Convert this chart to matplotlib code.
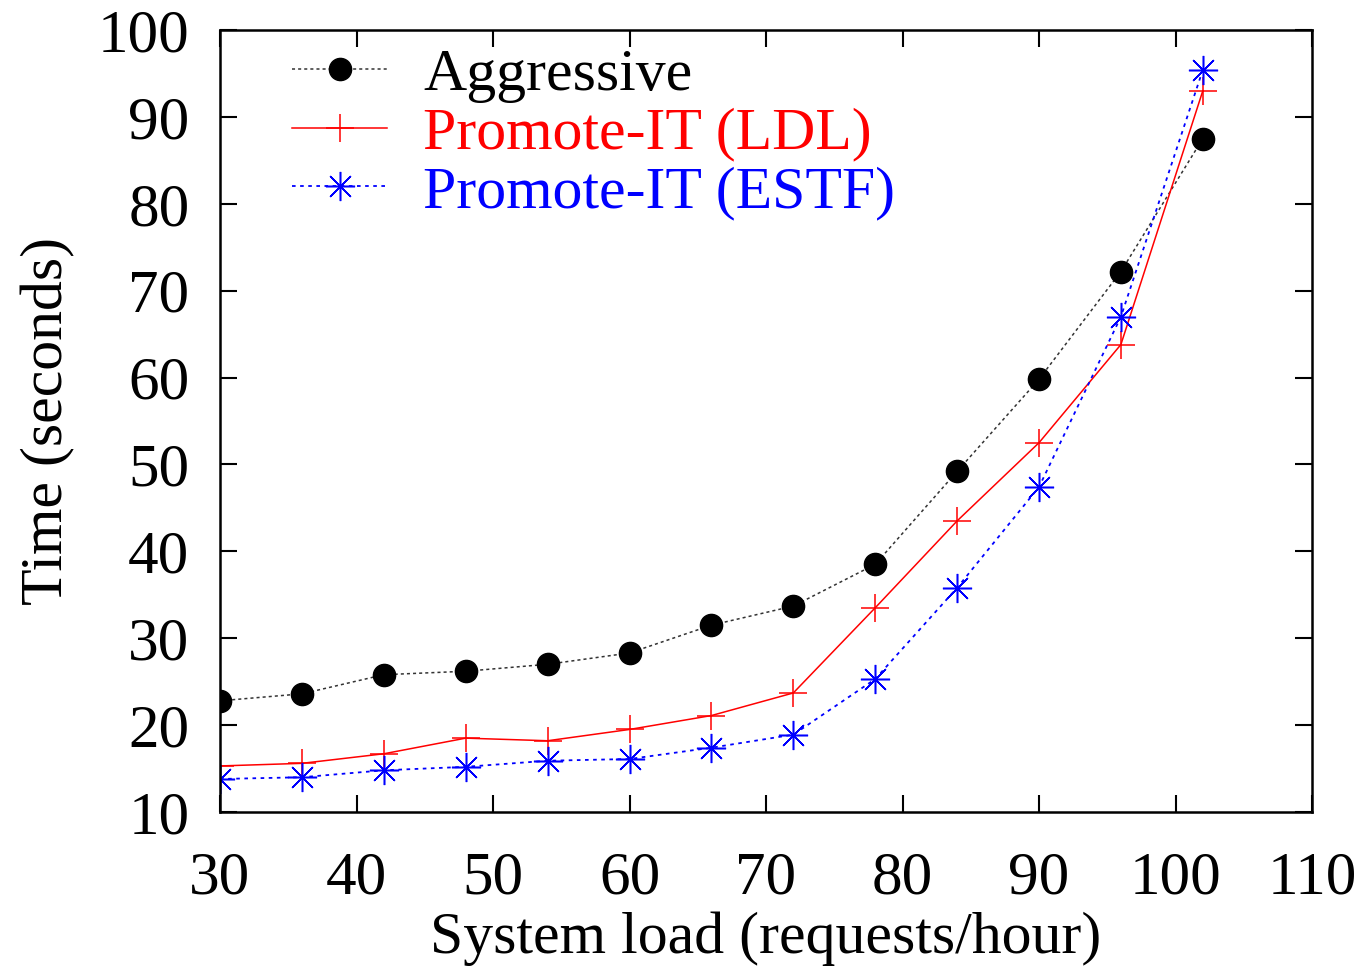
import matplotlib
matplotlib.use("Agg")
import matplotlib.pyplot as plt

x = [30, 36, 42, 48, 54, 60, 66, 72, 78, 84, 90, 96, 102]
aggressive = [22.8, 23.6, 25.8, 26.2, 27.0, 28.3, 31.5, 33.7, 38.5, 49.2, 59.8, 72.2, 87.5]
ldl = [15.3, 15.6, 16.7, 18.5, 18.2, 19.5, 21.1, 23.7, 33.5, 43.5, 52.5, 63.8, 93.0]
estf = [13.8, 14.0, 14.8, 15.2, 15.9, 16.1, 17.4, 18.9, 25.3, 35.8, 47.4, 67.0, 95.4]
labels = ["Aggressive", "Promote-IT (LDL)", "Promote-IT (ESTF)"]
xticks = [30, 40, 50, 60, 70, 80, 90, 100, 110]
yticks = [10, 20, 30, 40, 50, 60, 70, 80, 90, 100]

plt.rcParams['font.family'] = ['Liberation Serif', 'DejaVu Serif']

fig = plt.figure(figsize=(13.65, 9.66), dpi=100)
ax = fig.add_axes([220/1365, 1-812/966, (1312-220)/1365, (812-30)/966])

ax.plot(x, aggressive, color='#333333', linestyle=(0, (2, 2)), linewidth=1.1,
        marker='o', markersize=16, markeredgecolor='black', markerfacecolor='black',
        label=labels[0])
ax.plot(x, ldl, color='red', linestyle='-', linewidth=1.1,
        marker='+', markersize=20, markeredgewidth=1.1, label=labels[1])
ax.plot(x, estf, color='blue', linestyle=(0, (2, 2.5)), linewidth=1.3,
        marker=(8, 2, 0), markersize=21, markeredgewidth=1.1, label=labels[2])

ax.set_xlim(30, 110)
ax.set_ylim(10, 100)
ax.set_xticks(xticks)
ax.set_yticks(yticks)
ax.tick_params(direction='in', length=12, width=1.5, labelsize=44,
               top=True, right=True)
ax.tick_params(axis='x', pad=28)
ax.tick_params(axis='y', pad=22)
for s in ax.spines.values():
    s.set_linewidth(1.8)

ax.set_xlabel("System load (requests/hour)", fontsize=43, labelpad=4)
ax.set_ylabel("Time (seconds)", fontsize=43, labelpad=16)

leg = ax.legend(loc='upper left', bbox_to_anchor=(0.044, 1.007), frameon=False,
                fontsize=43, handlelength=1.6, handletextpad=0.6,
                labelspacing=0.06, borderaxespad=0)
for t, c in zip(leg.get_texts(), ['black', 'red', 'blue']):
    t.set_color(c)

fig.savefig("out.png", dpi=100)
